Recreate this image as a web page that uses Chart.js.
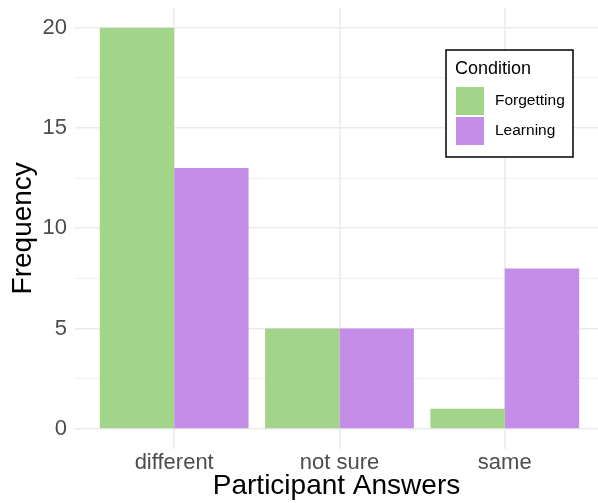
<!DOCTYPE html>
<html>
<head>
<meta charset="utf-8">
<script src="https://cdn.jsdelivr.net/npm/chart.js@4"></script>
<style>
  html, body { margin: 0; padding: 0; background: #ffffff; overflow: hidden; }
  canvas { display: block; }
</style>
</head>
<body>
<canvas id="c" width="598" height="503"></canvas>
<script>
const categories = ["different", "not sure", "same"];
const forgetting = [20, 5, 1];
const learning = [13, 5, 8];
const seriesNames = ["Forgetting", "Learning"];
const yMajorTicks = [0, 5, 10, 15, 20];
const yMinorTicks = [2.5, 7.5, 12.5, 17.5];

const FONT = "'Liberation Sans', Arial, Helvetica, sans-serif";
const GREEN = "#a2d489";
const PURPLE = "#c48de7";
const GRID = "#ebebeb";

const toPoints = (vals) => vals.map((v, i) => ({ x: i + 1, y: v }));

const legendPlugin = {
  id: "ggLegend",
  afterDraw(chart) {
    const ctx = chart.ctx;
    const ds = chart.data.datasets;
    const bx = 446, by = 50, bw = 127, bh = 107;
    ctx.save();
    ctx.fillStyle = "#ffffff";
    ctx.fillRect(bx, by, bw, bh);
    ctx.strokeStyle = "#000000";
    ctx.lineWidth = 1.5;
    ctx.strokeRect(bx, by, bw, bh);
    ctx.fillStyle = "#000000";
    ctx.font = "18px " + FONT;
    ctx.textBaseline = "alphabetic";
    ctx.textAlign = "left";
    ctx.fillText("Condition", 455, 74);
    ctx.font = "15.5px " + FONT;
    ctx.textBaseline = "middle";
    ds.forEach((d, i) => {
      const ky = 87 + i * 30;
      ctx.fillStyle = d.backgroundColor;
      ctx.fillRect(456, ky, 28, 28);
      ctx.fillStyle = "#000000";
      ctx.fillText(d.label, 495, ky + 14);
    });
    ctx.restore();
  }
};

new Chart(document.getElementById("c"), {
  type: "bar",
  data: {
    datasets: [
      { label: seriesNames[0], data: toPoints(forgetting), backgroundColor: GREEN, borderWidth: 0 },
      { label: seriesNames[1], data: toPoints(learning), backgroundColor: PURPLE, borderWidth: 0 }
    ]
  },
  options: {
    responsive: false,
    devicePixelRatio: 1,
    animation: false,
    events: [],
    categoryPercentage: 0.9,
    barPercentage: 1.0,
    layout: { padding: { top: 7.6, left: 0, right: 0, bottom: 0 } },
    plugins: {
      legend: { display: false },
      tooltip: { enabled: false },
      title: { display: false }
    },
    scales: {
      x: {
        type: "linear",
        offset: false,
        min: 0.4,
        max: 3.564,
        afterBuildTicks(scale) {
          scale.ticks = categories.map((c, i) => ({ value: i + 1 }));
        },
        afterFit(scale) { scale.height = 54; scale.paddingLeft = 0; scale.paddingRight = 0; },
        grid: { color: GRID, lineWidth: 1.6, drawTicks: false, offset: false },
        border: { display: false },
        ticks: {
          autoSkip: false,
          maxRotation: 0,
          padding: 1,
          color: "#4d4d4d",
          font: { family: FONT, size: 22 },
          callback: (v) => categories[Math.round(v) - 1]
        },
        title: {
          display: true,
          text: "Participant Answers",
          color: "#000000",
          font: { family: FONT, size: 28 },
          padding: { top: 0, bottom: 0 }
        }
      },
      y: {
        type: "linear",
        min: -1,
        max: 21,
        afterBuildTicks(scale) {
          scale.ticks = yMajorTicks.concat(yMinorTicks).sort((a, b) => a - b).map(v => ({ value: v }));
        },
        afterFit(scale) { scale.width = 75; scale.paddingTop = 0; scale.paddingBottom = 0; },
        grid: {
          color: GRID,
          lineWidth: (ctx) => (ctx.tick && yMajorTicks.includes(ctx.tick.value)) ? 1.6 : 0.8,
          drawTicks: false
        },
        border: { display: false },
        ticks: {
          autoSkip: false,
          padding: 8,
          color: "#4d4d4d",
          font: { family: FONT, size: 22 },
          callback: (v) => yMajorTicks.includes(v) ? String(v) : ""
        },
        title: {
          display: true,
          text: "Frequency",
          color: "#000000",
          font: { family: FONT, size: 28 },
          padding: { top: 6, bottom: 0 }
        }
      }
    }
  },
  plugins: [legendPlugin]
});
</script>
</body>
</html>
